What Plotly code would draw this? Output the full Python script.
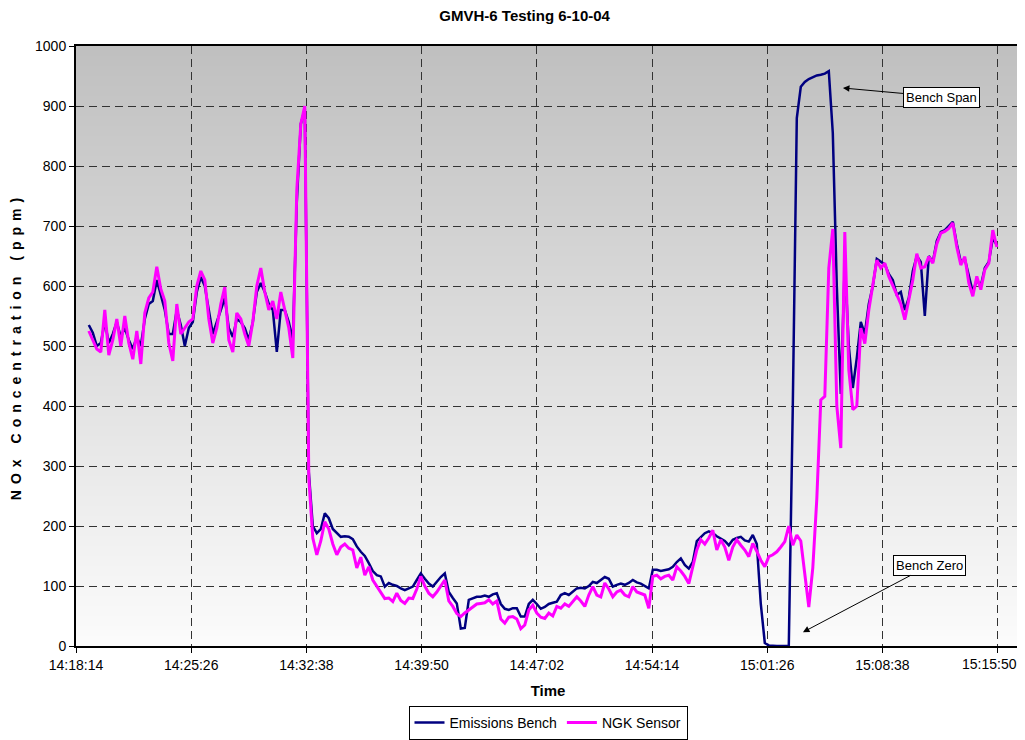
import pandas as pd
import plotly.graph_objects as go

# ---- data -------------------------------------------------------------
SAMPLE_START = "2004-06-10 14:19:02"
SAMPLE_STEP = "15s"

emissions_bench = [
    535, 522, 500, 505, 540, 505, 520, 540, 515, 530,
    510, 495, 515, 500, 545, 570, 575, 610, 585, 560,
    520, 520, 560, 535, 500, 530, 540, 590, 615, 600,
    560, 520, 540, 560, 580, 530, 515, 545, 540, 530,
    510, 540, 590, 605, 590, 570, 560, 490, 560, 560,
    540, 510, 740, 870, 895, 290, 200, 188, 195, 221,
    213, 195, 188, 182, 183, 182, 178, 166, 157, 150,
    138, 125, 118, 116, 99, 105, 102, 100, 96, 93,
    96, 99, 110, 121, 112, 104, 99, 108, 115, 121,
    90, 80, 71, 29, 30, 77, 79, 82, 82, 84,
    82, 86, 88, 70, 62, 60, 63, 63, 49, 49,
    70, 77, 70, 62, 65, 70, 72, 74, 85, 88,
    85, 90, 96, 97, 96, 100, 107, 105, 110, 115,
    112, 99, 102, 104, 102, 105, 110, 106, 104, 100,
    96, 127, 127, 125, 127, 128, 132, 140, 146, 135,
    129, 140, 175, 182, 188, 191, 188, 183, 179, 175,
    168, 177, 180, 182, 176, 174, 185, 170, 70, 5,
    1, 0, 0, 0, 0, 0, 400, 880, 932, 940,
    945, 948, 951, 952, 954, 958, 855, 600, 420, 640,
    500, 430, 480, 540, 520, 570, 600, 645, 640, 636,
    620, 610, 585, 590, 560, 580, 625, 650, 640, 550,
    650, 640, 675, 690, 693, 700, 707, 670, 640, 645,
    615, 590, 610, 600, 630, 640, 680, 668,
]

ngk_sensor = [
    525, 510, 495, 490, 560, 485, 510, 545, 500, 550,
    505, 478, 525, 470, 555, 580, 590, 632, 595, 575,
    505, 475, 570, 520, 530, 540, 545, 600, 625, 610,
    545, 505, 530, 570, 598, 510, 490, 555, 545, 520,
    500, 540, 600, 630, 590, 560, 575, 545, 590, 560,
    530, 480, 760, 870, 900, 280, 180, 152, 175, 207,
    195, 170, 152, 165, 170, 163, 160, 130, 148, 118,
    132, 110, 100, 90, 79, 80, 74, 88, 76, 71,
    80, 79, 95, 116, 100, 88, 82, 90, 100, 110,
    75, 66, 54, 49, 55, 60, 66, 70, 71, 72,
    77, 70, 75, 45, 38, 48, 49, 45, 29, 35,
    60, 68, 55, 48, 46, 55, 50, 66, 63, 70,
    66, 75, 82, 75, 66, 85, 99, 85, 82, 105,
    95, 82, 90, 93, 85, 82, 99, 90, 88, 85,
    63, 116, 118, 112, 116, 118, 110, 132, 125, 116,
    104, 130, 160, 177, 170, 180, 193, 160, 177, 165,
    143, 165, 177, 168, 160, 149, 171, 158, 143, 132,
    149, 152, 157, 165, 174, 200, 168, 185, 175, 120,
    65, 130, 245, 410, 416, 630, 695, 400, 330, 690,
    460, 394, 400, 530, 504, 560, 600, 643, 630, 638,
    616, 600, 583, 570, 544, 577, 610, 654, 630, 632,
    649, 638, 670, 688, 691, 696, 705, 665, 635, 649,
    605, 583, 616, 594, 627, 638, 693, 665,
]

x_tick_labels = ["14:18:14", "14:25:26", "14:32:38", "14:39:50", "14:47:02",
                 "14:54:14", "15:01:26", "15:08:38", "15:15:50"]
y_tick_values = [0, 100, 200, 300, 400, 500, 600, 700, 800, 900, 1000]

X_START = "2004-06-10 14:18:14"
X_END = "2004-06-10 15:17:14"

# ---- figure -----------------------------------------------------------
times = pd.date_range(start=SAMPLE_START, periods=len(emissions_bench), freq=SAMPLE_STEP)
tick_vals = ["2004-06-10 " + t for t in x_tick_labels]
# the last label is drawn as an annotation nudged left so it stays inside the visible page
tick_text = x_tick_labels[:-1] + [""]

FONT = "Arial, 'Liberation Sans', sans-serif"

fig = go.Figure()
fig.add_trace(go.Scatter(x=times, y=emissions_bench, mode="lines", name="Emissions Bench",
                         line=dict(color="#000080", width=2.5)))
fig.add_trace(go.Scatter(x=times, y=ngk_sensor, mode="lines", name="NGK Sensor",
                         line=dict(color="#FF00FF", width=3)))

# vertical gradient background of the plot area
n_bands = 120
top_c, bot_c = 192, 251
for k in range(n_bands):
    f = k / (n_bands - 1)
    c = round(bot_c + (top_c - bot_c) * f)
    fig.add_shape(type="rect", xref="x domain", yref="y domain",
                  x0=0, x1=1, y0=k / n_bands, y1=(k + 1) / n_bands + 0.002,
                  fillcolor=f"rgb({c},{c},{c})", line=dict(width=0), layer="below")

fig.add_annotation(x=tick_vals[-1], xref="x", y=0, yref="paper", text=x_tick_labels[-1],
                   showarrow=False, xanchor="center", yanchor="middle", xshift=-8, yshift=-18,
                   font=dict(family=FONT, size=14, color="black"))

fig.add_annotation(x="2004-06-10 15:06:10", y=930, text="Bench Span",
                   showarrow=True, arrowhead=2, arrowsize=1.3, arrowwidth=1, arrowcolor="black",
                   ax=99, ay=9, bgcolor="white", bordercolor="black", borderwidth=1, borderpad=2,
                   font=dict(family=FONT, size=13, color="black"))
fig.add_annotation(x="2004-06-10 15:03:40", y=23, text="Bench Zero",
                   showarrow=True, arrowhead=2, arrowsize=1.3, arrowwidth=1, arrowcolor="black",
                   ax=127, ay=-67, bgcolor="white", bordercolor="black", borderwidth=1, borderpad=2,
                   font=dict(family=FONT, size=13, color="black"))

# the page body adds an 8px offset, so the figure is sized/margined to compensate
fig.update_layout(
    width=1017, height=732,
    margin=dict(l=68, r=5, t=38, b=94, autoexpand=False),
    paper_bgcolor="white", plot_bgcolor="white",
    font=dict(family=FONT, size=14, color="black"),
    title=dict(text="<b>GMVH-6 Testing 6-10-04</b>", x=0.508, xanchor="center",
               y=1.0, yanchor="top", pad=dict(t=2), font=dict(size=15)),
    showlegend=True,
    legend=dict(orientation="h", x=0.5, xanchor="center", yref="container", y=0.0, yanchor="bottom",
                bgcolor="white", bordercolor="black", borderwidth=1,
                font=dict(size=14), itemwidth=30, tracegroupgap=0),
)
fig.update_xaxes(
    type="date", range=[X_START, X_END],
    tickmode="array", tickvals=tick_vals, ticktext=tick_text,
    ticklabeloverflow="allow",
    showgrid=True, gridcolor="#333333", griddash="8px,5px", gridwidth=1,
    showline=True, linecolor="black", linewidth=2, mirror=True,
    ticks="outside", ticklen=5, tickcolor="black",
    title=dict(text="<b>Time</b>", standoff=14, font=dict(size=15)),
    zeroline=False,
)
fig.update_yaxes(
    range=[0, 1000], tickmode="array", tickvals=y_tick_values,
    showgrid=True, gridcolor="#333333", griddash="8px,5px", gridwidth=1,
    showline=True, linecolor="black", linewidth=2, mirror=True,
    ticks="outside", ticklen=5, tickcolor="black",
    title=dict(text="<b><span style='letter-spacing:6px'>NOx Concentration (ppm)</span></b>",
               standoff=12, font=dict(size=14)),
    zeroline=False,
)

fig.write_html("out.html")
